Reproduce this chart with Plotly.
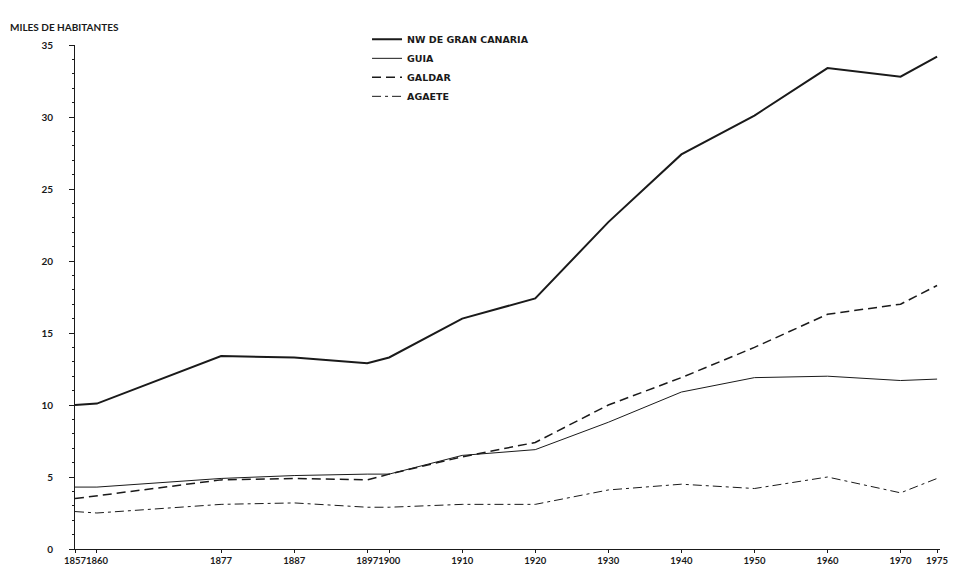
import plotly.graph_objects as go

years = [1857, 1860, 1877, 1887, 1897, 1900, 1910, 1920, 1930, 1940, 1950, 1960, 1970, 1975]
year_labels = ["1857", "1860", "1877", "1887", "1897", "1900", "1910", "1920", "1930", "1940", "1950", "1960", "1970", "1975"]

nw_gran_canaria = [10.0, 10.1, 13.4, 13.3, 12.9, 13.3, 16.0, 17.4, 22.7, 27.4, 30.1, 33.4, 32.8, 34.2]
guia = [4.3, 4.3, 4.9, 5.1, 5.2, 5.2, 6.5, 6.9, 8.8, 10.9, 11.9, 12.0, 11.7, 11.8]
galdar = [3.5, 3.7, 4.8, 4.9, 4.8, 5.2, 6.4, 7.4, 10.0, 11.9, 14.0, 16.3, 17.0, 18.3]
agaete = [2.6, 2.5, 3.1, 3.2, 2.9, 2.9, 3.1, 3.1, 4.1, 4.5, 4.2, 5.0, 3.9, 4.9]

series_names = ["NW DE GRAN CANARIA", "GUIA", "GALDAR", "AGAETE"]
y_ticks = [0, 5, 10, 15, 20, 25, 30, 35]

FONT = "Lato"
LEG_FONT = "DejaVu Sans"
INK = "#1a1a1a"

fig = go.Figure()
styles = [
    dict(width=2.0, dash="solid"),
    dict(width=1.0, dash="solid"),
    dict(width=1.5, dash="9px,5px"),
    dict(width=1.0, dash="9px,4px,3px,4px"),
]
for name, vals, st in zip(series_names, [nw_gran_canaria, guia, galdar, agaete], styles):
    fig.add_trace(go.Scatter(x=years, y=vals, mode="lines", name=name,
                             line=dict(color=INK, width=st["width"], dash=st["dash"])))

fig.update_layout(
    width=953, height=570,
    margin=dict(l=75, r=13, t=45, b=21, autoexpand=False),
    paper_bgcolor="white", plot_bgcolor="white",
    font=dict(family=FONT, size=10, color=INK),
    showlegend=True,
    legend=dict(x=0.3376, y=1.04, xanchor="left", yanchor="top",
                font=dict(family=LEG_FONT, size=9.5, color=INK, weight="bold"),
                bgcolor="rgba(0,0,0,0)", itemwidth=30),
    annotations=[dict(text="<b>MILES DE HABITANTES</b>", xref="paper", yref="paper",
                      x=-0.0775, y=1.036, xanchor="left", yanchor="middle",
                      showarrow=False, font=dict(family=FONT, size=10, color=INK))],
)
fig.update_xaxes(range=[1857, 1975.4], tickmode="array", tickvals=years, ticktext=year_labels,
                 automargin=False, tickangle=0,
                 showgrid=False, zeroline=False, showline=True, linecolor=INK, linewidth=1,
                 ticks="outside", ticklen=3, tickcolor=INK,
                 tickfont=dict(family=FONT, size=9.5, color=INK, weight="bold"))
fig.update_yaxes(range=[0, 35], tickmode="array", tickvals=y_ticks, automargin=False,
                 showgrid=False, zeroline=False, showline=True, linecolor=INK, linewidth=1,
                 ticks="outside", ticklen=5, tickcolor=INK, ticklabelstandoff=14,
                 minor=dict(dtick=1, ticks="outside", ticklen=2, tickcolor=INK, showgrid=False),
                 tickfont=dict(family=FONT, size=10, color=INK, weight="bold"))

fig.write_html("out.html", config={"displayModeBar": False},
               post_script="document.body.style.margin='0';document.body.style.overflow='hidden';")
